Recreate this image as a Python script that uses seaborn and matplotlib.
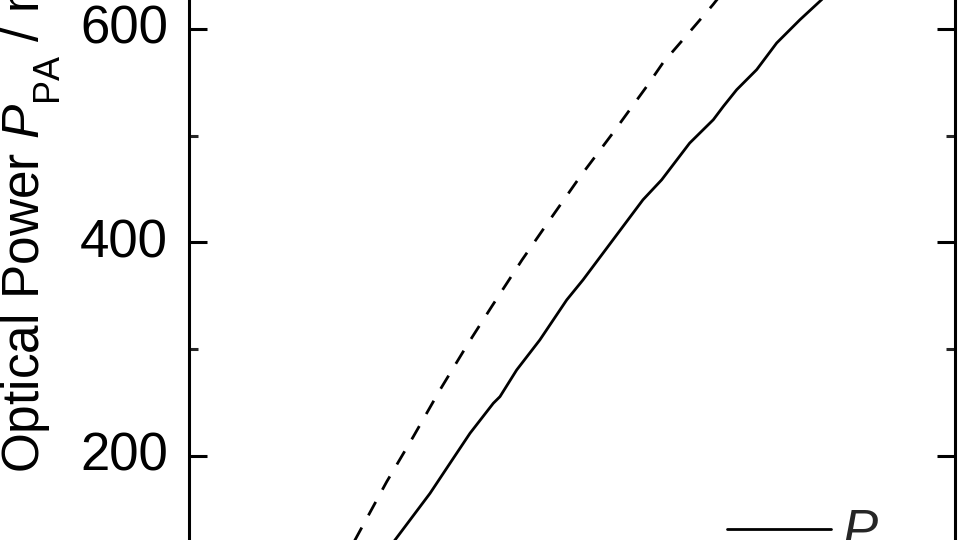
import numpy as np
import pandas as pd
import matplotlib
matplotlib.use("Agg")
import matplotlib.pyplot as plt
import matplotlib.transforms as mtransforms
import seaborn as sns
from matplotlib.ticker import MultipleLocator

# ---- data ----
x_meas = [2.66, 2.692, 3.149, 3.410, 3.671, 3.975, 4.062, 4.280, 4.582, 4.933,
          5.146, 5.928, 6.172, 6.537, 6.846, 6.977, 7.151, 7.412, 7.673, 7.977,
          8.260, 8.32]
p_meas = [118, 121.3, 165.0, 193.2, 221.3, 249.4, 255.6, 280.6, 308.7, 346.2,
          365.0, 440.0, 458.7, 493.1, 515.0, 527.5, 543.1, 561.9, 586.9, 608.7,
          627.5, 632]
x_calc = [2.15, 2.170, 2.584, 2.931, 3.279, 3.649, 3.954, 4.350, 4.676, 5.107,
          5.538, 5.977, 6.190, 6.450, 6.842, 6.894, 6.95]
p_calc = [118, 121.3, 175.9, 218.1, 261.9, 305.7, 340.0, 383.7, 417.5, 461.6,
          502.8, 546.2, 568.4, 590.0, 622.8, 627.5, 632]
y_major = [0, 200, 400, 600]
ylabel = "Optical Power $P_\\mathregular{PA}$ / mW"
legend_label = "$P_\\mathregular{PA}$"

sns.set_theme(style="ticks")
plt.rcParams["font.family"] = ["Liberation Sans", "DejaVu Sans"]
plt.rcParams["mathtext.fontset"] = "custom"
plt.rcParams["mathtext.rm"] = "Liberation Sans"
plt.rcParams["mathtext.it"] = "Liberation Sans:italic"

# deeper subscripts, as in the reference typesetting
try:
    import matplotlib._mathtext as _mt

    class _SubConsts(_mt.FontConstantsBase):
        sub1 = 0.75

    _mt._font_constant_mapping["Liberation Sans"] = _SubConsts
except Exception:
    pass

fig = plt.figure(figsize=(9.6, 5.4), dpi=100)
# axes extends beyond the visible figure (cropped view)
ax = fig.add_axes([188.7 / 960, -0.2398, 766.3 / 960, 1.3838])

df_m = pd.DataFrame({"x": x_meas, "p": p_meas})
df_c = pd.DataFrame({"x": x_calc, "p": p_calc})
sns.lineplot(data=df_m, x="x", y="p", ax=ax, color="black", lw=2.0,
             sort=False, estimator=None, label=legend_label)
sns.lineplot(data=df_c, x="x", y="p", ax=ax, color="black", lw=2.0,
             sort=False, estimator=None, linestyle=(0, (5.5, 5.0)))

ax.set_xlim(0, 10)
ax.set_ylim(0, 700)
ax.set_yticks(y_major)
ax.yaxis.set_minor_locator(MultipleLocator(100))
ax.set_xlabel("")
ax.set_ylabel("")
for s in ax.spines.values():
    s.set_linewidth(2.2)
    s.set_color("black")
ax.tick_params(axis="y", which="major", direction="in", length=13, width=2.2,
               labelsize=38, pad=15, right=True, left=True, colors="black")
ax.tick_params(axis="y", which="minor", direction="in", length=6.5, width=2.2,
               right=True, left=True)
ax.tick_params(axis="x", labelbottom=False, bottom=False)

shift = mtransforms.ScaledTranslation(0, 4.5 / 100, fig.dpi_scale_trans)
for lab in ax.get_yticklabels():
    lab.set_transform(lab.get_transform() + shift)

fig.text(62 / 960, 0.124, ylabel, rotation=90, ha="right", va="bottom",
         fontsize=37, color="black")

ax.legend(loc="upper left", bbox_to_anchor=(727 / 960, 0.0593),
          bbox_transform=fig.transFigure, frameon=False, fontsize=38,
          handlelength=1.97, handletextpad=0.2, borderpad=0, borderaxespad=0)

fig.savefig("out.png", dpi=100)
